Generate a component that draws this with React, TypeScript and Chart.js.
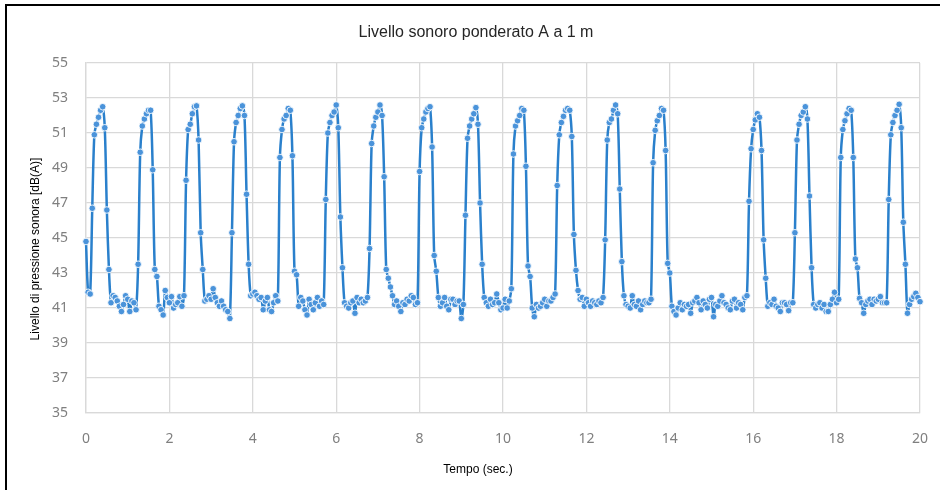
import { useEffect, useRef } from "react";
import { Chart, registerables } from "chart.js";

Chart.register(...registerables);

const TITLE = "Livello sonoro ponderato A a 1 m";
const Y_TITLE = "Livello di pressione sonora [dB(A)]";
const X_TITLE = "Tempo (sec.)";

const SAMPLE_STEP = 0.05; // seconds between samples
const X_MIN = 0;
const X_MAX = 20;
const X_STEP = 2;
const Y_MIN = 35;
const Y_MAX = 55;
const Y_STEP = 2;

// dB(A) levels, 0 – 4.95 s
const SEG_A = [
  44.8, 41.9, 41.8, 46.7, 50.9, 51.5, 51.9, 52.3, 52.5, 51.3,
  46.6, 43.2, 41.3, 41.7, 41.6, 41.4, 41.1, 40.8, 41.2, 41.7,
  41.5, 40.8, 41.4, 41.3, 40.9, 43.5, 49.9, 51.4, 51.8, 52.1,
  52.3, 52.3, 48.9, 43.2, 42.8, 41.1, 40.9, 40.6, 42.0, 41.6,
  41.3, 41.65, 41.0, 41.2, 41.3, 41.65, 41.1, 41.7, 48.3, 51.2,
  51.5, 52.1, 52.5, 52.55, 50.6, 45.3, 43.2, 41.4, 41.5, 41.7,
  41.5, 42.1, 41.6, 41.3, 41.1, 41.4, 41.1, 40.9, 40.8, 40.4,
  45.3, 50.5, 51.6, 52.0, 52.4, 52.55, 52.0, 47.5, 43.5, 41.7,
  41.8, 41.9, 41.7, 41.5, 41.6, 40.9, 41.4, 41.6, 40.9, 40.8,
  41.3, 41.7, 41.4, 49.6, 51.2, 51.8, 52.0, 52.4, 52.3, 49.7,
];

// 5 – 9.95 s
const SEG_B = [
  43.1, 42.9, 41.1, 41.6, 41.4, 40.9, 40.6, 41.5, 41.2, 40.9,
  41.3, 41.6, 41.1, 41.4, 41.2, 47.2, 51.0, 51.6, 52.0, 52.2,
  52.6, 51.3, 46.2, 43.3, 41.3, 41.1, 41.0, 41.3, 41.4, 40.7,
  41.6, 41.3, 41.5, 41.3, 41.4, 41.6, 44.4, 50.4, 51.4, 51.9,
  52.2, 52.6, 52.0, 48.5, 43.2, 42.7, 42.2, 41.7, 41.2, 41.4,
  41.1, 40.8, 41.3, 41.2, 41.5, 41.4, 41.7, 41.6, 41.2, 41.3,
  48.8, 51.3, 51.8, 52.2, 52.4, 52.5, 50.2, 44.0, 43.1, 41.6,
  41.1, 41.3, 41.6, 41.1, 40.9, 41.5, 41.5, 41.2, 41.4, 41.4,
  40.4, 41.2, 46.3, 50.7, 51.4, 51.8, 52.1, 52.45, 51.5, 47.0,
  43.5, 41.6, 41.3, 41.1, 41.5, 41.2, 41.3, 41.8, 41.3, 40.9,
];

// 10 – 14.95 s
const SEG_C = [
  41.0, 41.5, 41.0, 41.4, 42.1, 49.8, 51.4, 51.7, 52.0, 52.4,
  52.3, 49.1, 43.4, 42.8, 41.0, 40.5, 41.2, 41.0, 41.1, 41.3,
  41.5, 41.1, 41.4, 41.4, 41.6, 41.8, 48.0, 50.9, 51.6, 51.95,
  52.3, 52.4, 52.3, 50.8, 45.2, 43.15, 42.0, 41.5, 41.6, 41.1,
  41.5, 41.3, 41.1, 41.4, 41.3, 41.2, 41.4, 41.3, 41.6, 44.9,
  50.6, 51.6, 51.8, 52.3, 52.6, 52.1, 47.8, 43.65, 41.7, 41.2,
  41.1, 41.0, 41.7, 41.2, 41.1, 41.4, 40.9, 41.2, 41.4, 41.3,
  41.3, 41.5, 49.3, 51.15, 51.7, 52.0, 52.4, 52.3, 50.0, 43.55,
  43.0, 41.1, 40.8, 40.6, 41.0, 41.3, 40.9, 41.2, 41.1, 41.2,
  40.7, 41.3, 41.4, 41.6, 41.3, 40.9, 41.4, 41.2, 41.0, 41.5,
];

// 15 – 20 s
const SEG_D = [
  41.6, 40.5, 41.2, 41.1, 41.4, 41.7, 41.3, 41.2, 41.0, 40.9,
  41.4, 41.5, 41.0, 41.3, 41.2, 40.9, 41.6, 41.7, 47.1, 50.1,
  51.2, 51.75, 52.1, 51.9, 50.0, 44.9, 42.7, 41.1, 41.3, 41.2,
  41.5, 41.1, 41.0, 40.8, 41.3, 41.3, 41.2, 40.85, 41.3, 41.3,
  45.3, 50.6, 51.5, 52.0, 52.2, 52.5, 51.8, 47.4, 43.3, 41.2,
  41.0, 41.2, 41.3, 41.0, 41.2, 40.8, 40.8, 41.2, 41.5, 41.9,
  41.3, 41.5, 49.6, 51.2, 51.7, 52.1, 52.4, 52.3, 49.6, 43.8,
  43.3, 41.55, 41.3, 40.7, 41.2, 41.4, 41.5, 41.2, 41.5, 41.4,
  41.5, 41.65, 41.3, 41.3, 41.3, 47.2, 50.9, 51.6, 52.0, 52.3,
  52.64, 51.3, 45.9, 43.5, 40.7, 41.2, 41.5, 41.65, 41.84, 41.6, 41.36,
];

const LEVELS = [...SEG_A, ...SEG_B, ...SEG_C, ...SEG_D];

const decorPlugin = {
  id: "decor",
  afterDraw(chart: any) {
    const ctx = chart.ctx as CanvasRenderingContext2D;
    ctx.save();
    // outer frame (top and left)
    ctx.fillStyle = "#000";
    ctx.fillRect(5, 4, 935, 2);
    ctx.fillRect(5, 4, 2, 486);

    ctx.textAlign = "center";
    ctx.textBaseline = "middle";
    ctx.fillStyle = "#262626";
    ctx.font = '16px "Liberation Sans", Arial, sans-serif';
    ctx.fillText(TITLE, 476, 33);

    ctx.fillStyle = "#000";
    ctx.font = '12px "Liberation Sans", Arial, sans-serif';
    ctx.fillText(X_TITLE, 478, 470);

    ctx.translate(36, 249);
    ctx.rotate(-Math.PI / 2);
    ctx.fillText(Y_TITLE, 0, 0);
    ctx.restore();
  },
};

export default function App() {
  const ref = useRef<HTMLCanvasElement | null>(null);

  useEffect(() => {
    if (!ref.current) return;
    const points = LEVELS.map((v, i) => ({ x: i * SAMPLE_STEP, y: v }));
    const chart = new Chart(ref.current, {
      type: "line",
      data: {
        datasets: [
          {
            data: points,
            borderColor: "#2a80cc",
            borderWidth: 2.5,
            backgroundColor: "#4f97dc",
            pointBackgroundColor: "#4a93da",
            pointBorderColor: "rgba(255,255,255,0.85)",
            pointBorderWidth: 1,
            pointRadius: 3.3,
            tension: 0.3,
            clip: 10,
          },
        ],
      },
      options: {
        animation: false,
        responsive: false,
        maintainAspectRatio: false,
        layout: { padding: { left: 0, right: 20, top: 63, bottom: 0 } },
        plugins: {
          legend: { display: false },
          tooltip: { enabled: false },
          title: { display: false },
        },
        scales: {
          x: {
            type: "linear",
            min: X_MIN,
            max: X_MAX,
            afterFit: (s: any) => {
              s.height = 77;
              s.paddingLeft = 0;
              s.paddingRight = 0;
            },
            ticks: {
              stepSize: X_STEP,
              padding: 18,
              color: "#7f7f7f",
              font: { family: '"Noto Sans", "Open Sans", sans-serif', size: 14 },
            },
            grid: { color: "#d9d9d9", lineWidth: 1.3, drawTicks: false },
            border: { color: "#d9d9d9", width: 1.3 },
          },
          y: {
            min: Y_MIN,
            max: Y_MAX,
            afterFit: (s: any) => {
              s.width = 86;
              s.paddingTop = 0;
              s.paddingBottom = 0;
            },
            ticks: {
              stepSize: Y_STEP,
              padding: 18,
              color: "#7f7f7f",
              font: { family: '"Noto Sans", "Open Sans", sans-serif', size: 14 },
            },
            grid: { color: "#d9d9d9", lineWidth: 1.3, drawTicks: false },
            border: { color: "#d9d9d9", width: 1.3 },
          },
        },
      },
      plugins: [decorPlugin],
    });
    return () => chart.destroy();
  }, []);

  return (
    <div style={{ position: "absolute", left: 0, top: 0, width: 940, height: 490, background: "#fff" }}>
      <canvas ref={ref} width={940} height={490} style={{ display: "block", width: 940, height: 490 }} />
    </div>
  );
}
